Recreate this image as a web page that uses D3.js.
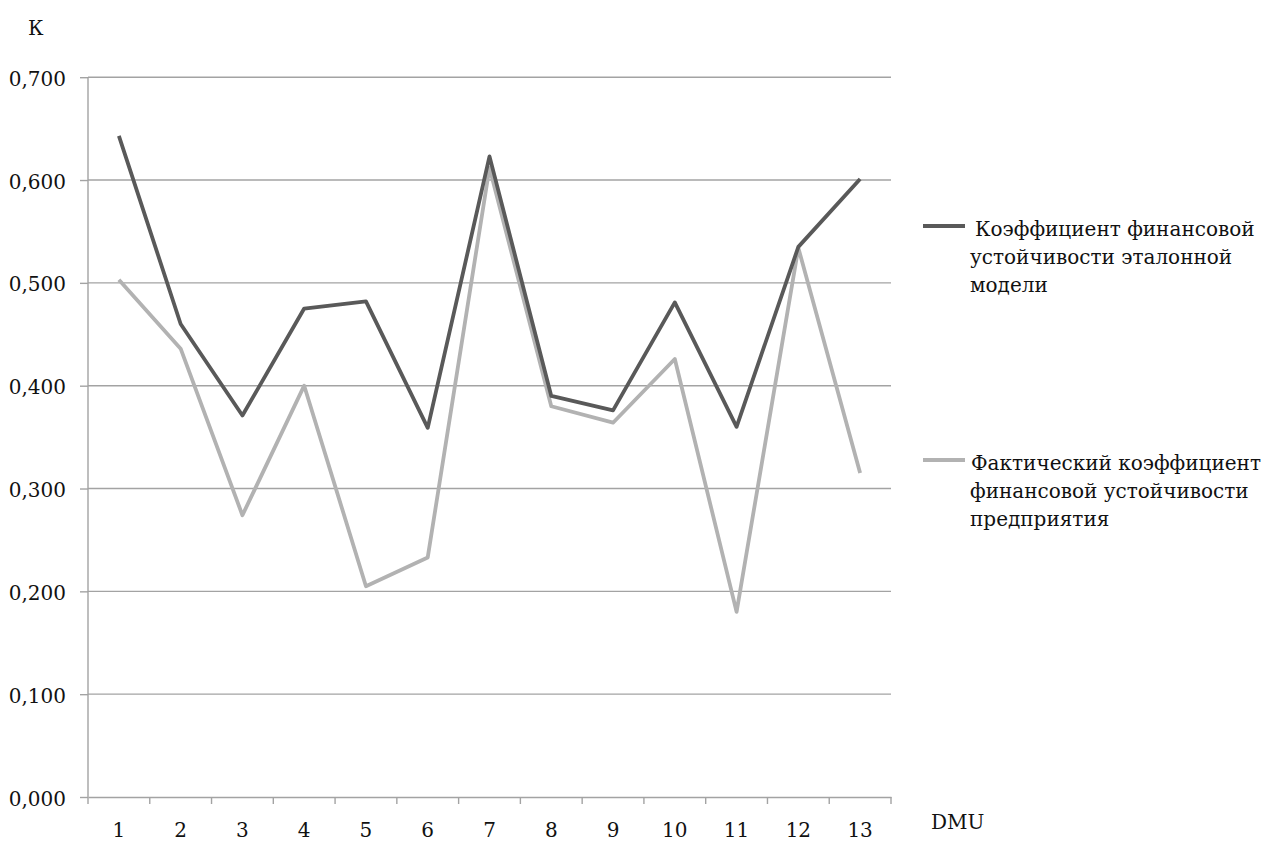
<!DOCTYPE html>
<html>
<head>
<meta charset="utf-8">
<script src="https://cdn.jsdelivr.net/npm/d3@7"></script>
<style>
  html, body { margin: 0; padding: 0; background: #fff; }
  svg text { font-family: "DejaVu Serif", "Liberation Serif", serif; }
</style>
</head>
<body>
<svg id="chart" width="1267" height="843"></svg>
<script>
const categories = ['1', '2', '3', '4', '5', '6', '7', '8', '9', '10', '11', '12', '13'];
const etalon = [0.643, 0.460, 0.371, 0.475, 0.482, 0.359, 0.623, 0.390, 0.376, 0.481, 0.360, 0.535, 0.601];
const actual = [0.503, 0.436, 0.274, 0.400, 0.205, 0.233, 0.612, 0.380, 0.364, 0.426, 0.180, 0.534, 0.315];
const yTicks = [0, 0.1, 0.2, 0.3, 0.4, 0.5, 0.6, 0.7];
const legendEtalon = ['Коэффициент финансовой', 'устойчивости эталонной', 'модели'];
const legendActual = ['Фактический коэффициент', 'финансовой устойчивости', 'предприятия'];

const svg = d3.select('#chart');
const margin = { top: 77.2, right: 376, bottom: 46, left: 88 };
const width = 1267, height = 843;
const gridColor = '#a3a3a3';
const darkColor = '#595959';
const lightColor = '#b2b2b2';
const textColor = '#111';
const fontSize = 20;
const fmt = v => d3.format('.3f')(v).replace('.', ',');

const x = d3.scaleBand()
    .domain(categories)
    .range([margin.left, width - margin.right])
    .padding(0);

const y = d3.scaleLinear()
    .domain([0, 0.7])
    .range([height - margin.bottom, margin.top]);

// y tick marks + labels
svg.append('g')
    .attr('transform', `translate(${margin.left},0)`)
    .call(d3.axisLeft(y).tickValues(yTicks).tickFormat(fmt).tickSize(8).tickPadding(14))
    .call(g => g.attr('font-family', null))
    .call(g => g.select('.domain').remove())
    .call(g => g.selectAll('line').attr('stroke', gridColor).attr('stroke-width', 1.4))
    .call(g => g.selectAll('text').attr('font-size', fontSize).attr('fill', textColor).attr('dy', '0.4em'));

// horizontal gridlines
svg.append('g')
    .selectAll('line')
    .data(yTicks.filter(d => d > 0))
    .join('line')
    .attr('x1', margin.left)
    .attr('x2', width - margin.right)
    .attr('y1', d => y(d))
    .attr('y2', d => y(d))
    .attr('stroke', gridColor)
    .attr('stroke-width', 1.4);

// left axis line
svg.append('line')
    .attr('x1', margin.left).attr('x2', margin.left)
    .attr('y1', y(0.7)).attr('y2', y(0))
    .attr('stroke', gridColor).attr('stroke-width', 1.4);

// bottom axis, labels centred in bands
svg.append('g')
    .attr('transform', `translate(0,${y(0)})`)
    .call(d3.axisBottom(x).tickSize(0).tickPadding(26))
    .call(g => g.attr('font-family', null))
    .call(g => g.select('.domain').attr('stroke', gridColor).attr('stroke-width', 1.6))
    .call(g => g.selectAll('text').attr('font-size', fontSize).attr('fill', textColor));

// tick marks sit on the band boundaries
const bounds = categories.map(c => x(c)).concat([x(categories[categories.length - 1]) + x.bandwidth()]);
svg.append('g')
    .selectAll('line')
    .data(bounds)
    .join('line')
    .attr('x1', d => d).attr('x2', d => d)
    .attr('y1', y(0)).attr('y2', y(0) + 7)
    .attr('stroke', gridColor).attr('stroke-width', 1.4);

const line = d3.line()
    .x((d, i) => x(categories[i]) + x.bandwidth() / 2)
    .y(d => y(d));

svg.append('path')
    .datum(actual)
    .attr('fill', 'none')
    .attr('stroke', lightColor)
    .attr('stroke-width', 3.8)
    .attr('stroke-linejoin', 'round')
    .attr('d', line);

svg.append('path')
    .datum(etalon)
    .attr('fill', 'none')
    .attr('stroke', darkColor)
    .attr('stroke-width', 3.8)
    .attr('stroke-linejoin', 'round')
    .attr('d', line);

svg.append('text').text('К').attr('x', 28).attr('y', 35).attr('font-size', fontSize).attr('fill', textColor);
svg.append('text').text('DMU').attr('x', 931).attr('y', 829).attr('font-size', fontSize).attr('fill', textColor);

function legendItem(lines, color, ly, firstX) {
    const g = svg.append('g');
    g.append('line')
        .attr('x1', 923).attr('x2', 965)
        .attr('y1', ly).attr('y2', ly)
        .attr('stroke', color).attr('stroke-width', 4);
    g.selectAll('text')
        .data(lines)
        .join('text')
        .text(d => d)
        .attr('x', (d, i) => i === 0 ? firstX : 970)
        .attr('y', (d, i) => ly + 10 + i * 28)
        .attr('font-size', fontSize)
        .attr('fill', textColor);
}
legendItem(legendEtalon, darkColor, 226, 975);
legendItem(legendActual, lightColor, 460, 971);
</script>
</body>
</html>
